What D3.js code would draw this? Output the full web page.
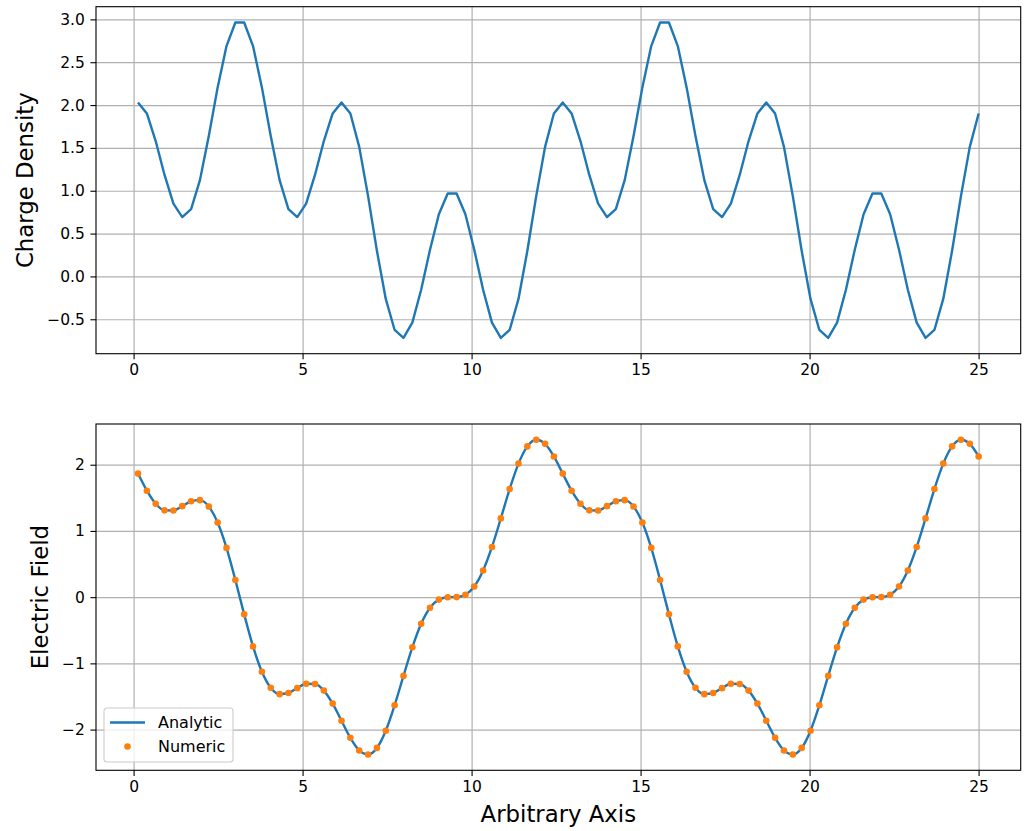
<!DOCTYPE html>
<meta charset="utf-8">
<head>
<style>
body { margin: 0; background: #fff; }
text { font-family: 'DejaVu Sans', sans-serif; fill: #000; }
.grid line { stroke: #b0b0b0; stroke-width: 1.2px; }
.grid .domain { display: none; }
.axis .domain { display: none; }
.axis line { stroke: #000; stroke-width: 1.1px; }
.axis text { font-size: 15.5px; }
.label { font-size: 22.8px; }
</style>
<script src="https://cdnjs.cloudflare.com/ajax/libs/d3/7.8.5/d3.min.js"></script>
</head>
<body>
<svg id="fig" width="1025" height="831"></svg>
<script>

// sample positions along the axis
var xs = [0.131, 0.393, 0.654, 0.916, 1.178, 1.440, 1.702, 1.963, 2.225, 2.487, 2.749, 3.011,
  3.272, 3.534, 3.796, 4.058, 4.320, 4.581, 4.843, 5.105, 5.367, 5.629, 5.890, 6.152,
  6.414, 6.676, 6.938, 7.199, 7.461, 7.723, 7.985, 8.247, 8.508, 8.770, 9.032, 9.294,
  9.556, 9.817, 10.079, 10.341, 10.603, 10.865, 11.126, 11.388, 11.650, 11.912, 12.174, 12.435,
  12.697, 12.959, 13.221, 13.483, 13.744, 14.006, 14.268, 14.530, 14.792, 15.053, 15.315, 15.577,
  15.839, 16.101, 16.362, 16.624, 16.886, 17.148, 17.410, 17.671, 17.933, 18.195, 18.457, 18.719,
  18.980, 19.242, 19.504, 19.766, 20.028, 20.289, 20.551, 20.813, 21.075, 21.337, 21.598, 21.860,
  22.122, 22.384, 22.646, 22.907, 23.169, 23.431, 23.693, 23.955, 24.216, 24.478, 24.740, 25.002]

var rho = [2.031, 1.902, 1.580, 1.184, 0.849, 0.693, 0.786, 1.124, 1.638, 2.206, 2.688, 2.964,
  2.964, 2.688, 2.206, 1.638, 1.124, 0.786, 0.693, 0.849, 1.184, 1.580, 1.902, 2.031,
  1.901, 1.512, 0.937, 0.299, -0.263, -0.625, -0.718, -0.539, -0.156, 0.312, 0.726, 0.968,
  0.968, 0.726, 0.312, -0.156, -0.539, -0.718, -0.625, -0.263, 0.299, 0.937, 1.512, 1.901,
  2.031, 1.902, 1.580, 1.184, 0.849, 0.693, 0.786, 1.124, 1.638, 2.206, 2.688, 2.964,
  2.964, 2.688, 2.206, 1.638, 1.124, 0.786, 0.693, 0.849, 1.184, 1.580, 1.902, 2.031,
  1.901, 1.512, 0.937, 0.299, -0.263, -0.625, -0.718, -0.539, -0.156, 0.312, 0.726, 0.968,
  0.968, 0.726, 0.312, -0.156, -0.539, -0.718, -0.625, -0.263, 0.299, 0.937, 1.512, 1.901]

var eAnalytic = [1.866, 1.608, 1.411, 1.311, 1.309, 1.374, 1.448, 1.465, 1.368, 1.126, 0.744, 0.260,
  -0.260, -0.744, -1.126, -1.368, -1.465, -1.448, -1.374, -1.309, -1.311, -1.411, -1.608, -1.866,
  -2.125, -2.315, -2.377, -2.277, -2.017, -1.633, -1.189, -0.758, -0.402, -0.160, -0.037, -0.001,
  0.001, 0.037, 0.160, 0.402, 0.758, 1.189, 1.633, 2.017, 2.277, 2.377, 2.315, 2.125,
  1.866, 1.608, 1.411, 1.311, 1.309, 1.374, 1.448, 1.465, 1.368, 1.126, 0.744, 0.260,
  -0.260, -0.744, -1.126, -1.368, -1.465, -1.448, -1.374, -1.309, -1.311, -1.411, -1.608, -1.866,
  -2.125, -2.315, -2.377, -2.277, -2.017, -1.633, -1.189, -0.758, -0.402, -0.160, -0.037, -0.001,
  0.001, 0.037, 0.160, 0.402, 0.758, 1.189, 1.633, 2.017, 2.277, 2.377, 2.315, 2.125]

var eNumeric = [1.866, 1.608, 1.411, 1.311, 1.309, 1.374, 1.448, 1.465, 1.368, 1.126, 0.744, 0.260,
  -0.260, -0.744, -1.126, -1.368, -1.465, -1.448, -1.374, -1.309, -1.311, -1.411, -1.608, -1.866,
  -2.125, -2.315, -2.377, -2.277, -2.017, -1.633, -1.189, -0.758, -0.402, -0.160, -0.037, -0.001,
  0.001, 0.037, 0.160, 0.402, 0.758, 1.189, 1.633, 2.017, 2.277, 2.377, 2.315, 2.125,
  1.866, 1.608, 1.411, 1.311, 1.309, 1.374, 1.448, 1.465, 1.368, 1.126, 0.744, 0.260,
  -0.260, -0.744, -1.126, -1.368, -1.465, -1.448, -1.374, -1.309, -1.311, -1.411, -1.608, -1.866,
  -2.125, -2.315, -2.377, -2.277, -2.017, -1.633, -1.189, -0.758, -0.402, -0.160, -0.037, -0.001,
  0.001, 0.037, 0.160, 0.402, 0.758, 1.189, 1.633, 2.017, 2.277, 2.377, 2.315, 2.125]

var xTicks = [0, 5, 10, 15, 20, 25]
var rhoTicks = [-0.5, 0, 0.5, 1, 1.5, 2, 2.5, 3]
var eTicks = [-2, -1, 0, 1, 2]

var blue = '#1f77b4', orange = '#ff7f0e'
var left = 96, right = 1020.7
var svg = d3.select('#fig')

function minus(s) { return s.replace('-', '\u2212') }

// one panel: grid, axes, frame
function panel(top, bottom, yDomain, yTicks, yFmt, ylabel, labelX) {
  var x = d3.scaleLinear().domain([-1.112, 26.246]).range([left, right])
  var y = d3.scaleLinear().domain(yDomain).range([bottom, top])
  var h = bottom - top, w = right - left

  svg.append('g').attr('class', 'grid')
    .attr('transform', 'translate(0,' + bottom + ')')
    .call(d3.axisBottom(x).tickValues(xTicks).tickSize(-h).tickFormat(''))
  svg.append('g').attr('class', 'grid')
    .attr('transform', 'translate(' + left + ',0)')
    .call(d3.axisLeft(y).tickValues(yTicks).tickSize(-w).tickFormat(''))

  svg.append('g').attr('class', 'axis')
    .attr('transform', 'translate(0,' + bottom + ')')
    .call(d3.axisBottom(x).tickValues(xTicks).tickSize(5.6).tickPadding(5.2)
      .tickFormat(d3.format('d')))
  svg.append('g').attr('class', 'axis')
    .attr('transform', 'translate(' + left + ',0)')
    .call(d3.axisLeft(y).tickValues(yTicks).tickSize(5.6).tickPadding(5.6)
      .tickFormat(function (d) { return minus(yFmt(d)) }))

  svg.append('text').attr('class', 'label')
    .attr('transform', 'translate(' + labelX + ',' + (top + h / 2) + ') rotate(-90)')
    .attr('text-anchor', 'middle')
    .text(ylabel)

  return {x: x, y: y, top: top, bottom: bottom}
}

function frame(p) {
  svg.append('rect')
    .attr('x', left).attr('y', p.top)
    .attr('width', right - left).attr('height', p.bottom - p.top)
    .attr('fill', 'none').attr('stroke', '#000').attr('stroke-width', 1.1)
}

// top: charge density
var p1 = panel(6.7, 353.7, [-0.902, 3.148], rhoTicks, d3.format('.1f'), 'Charge Density', 33)
svg.append('path')
  .datum(xs.map(function (v, i) { return [v, rho[i]] }))
  .attr('fill', 'none').attr('stroke', blue).attr('stroke-width', 2.4)
  .attr('stroke-linejoin', 'round')
  .attr('d', d3.line().x(function (d) { return p1.x(d[0]) }).y(function (d) { return p1.y(d[1]) }))
frame(p1)

// bottom: electric field
var p2 = panel(424, 770.3, [-2.615, 2.615], eTicks, d3.format('d'), 'Electric Field', 48)
svg.append('path')
  .datum(xs.map(function (v, i) { return [v, eAnalytic[i]] }))
  .attr('fill', 'none').attr('stroke', blue).attr('stroke-width', 2.4)
  .attr('stroke-linejoin', 'round')
  .attr('d', d3.line().curve(d3.curveMonotoneX)
    .x(function (d) { return p2.x(d[0]) }).y(function (d) { return p2.y(d[1]) }))
svg.selectAll('.dot')
  .data(xs.map(function (v, i) { return [v, eNumeric[i]] }))
  .enter().append('circle')
  .attr('class', 'dot')
  .attr('cx', function (d) { return p2.x(d[0]) })
  .attr('cy', function (d) { return p2.y(d[1]) })
  .attr('r', 3.3)
  .attr('fill', orange)
frame(p2)

svg.append('text').attr('class', 'label')
  .attr('x', (left + right) / 2).attr('y', 822)
  .attr('text-anchor', 'middle')
  .text('Arbitrary Axis')

// legend
var lg = svg.append('g').attr('transform', 'translate(104,708)')
lg.append('rect').attr('width', 129).attr('height', 54).attr('rx', 3)
  .attr('fill', 'rgba(255,255,255,0.8)').attr('stroke', '#cccccc').attr('stroke-width', 1.1)
lg.append('line').attr('x1', 6).attr('x2', 41).attr('y1', 14.5).attr('y2', 14.5)
  .attr('stroke', blue).attr('stroke-width', 2.4)
lg.append('circle').attr('cx', 23.5).attr('cy', 38.5).attr('r', 3.3).attr('fill', orange)
lg.append('text').attr('x', 54).attr('y', 20.3).style('font-size', '16px').text('Analytic')
lg.append('text').attr('x', 54).attr('y', 44.3).style('font-size', '16px').text('Numeric')

</script>
</body>
